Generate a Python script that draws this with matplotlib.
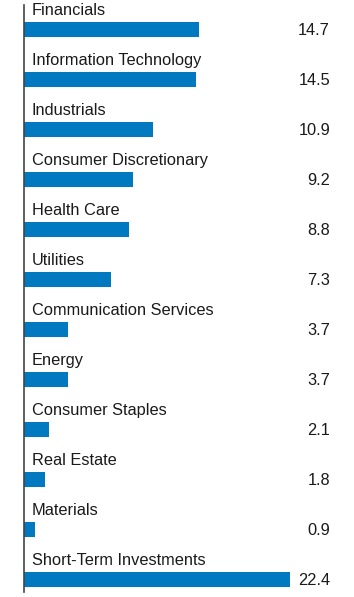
import matplotlib
matplotlib.use('Agg')
import matplotlib.pyplot as plt
from matplotlib import rcParams
import matplotlib.transforms as mtransforms

rcParams['font.family'] = ['Liberation Sans', 'DejaVu Sans']

sectors = ['Financials', 'Information Technology', 'Industrials',
           'Consumer Discretionary', 'Health Care', 'Utilities',
           'Communication Services', 'Energy', 'Consumer Staples',
           'Real Estate', 'Materials', 'Short-Term Investments']
weights = [14.7, 14.5, 10.9, 9.2, 8.8, 7.3, 3.7, 3.7, 2.1, 1.8, 0.9, 22.4]

bar_color = '#0079C1'

fig = plt.figure(figsize=(3.54, 5.97), dpi=100)
# axes: left spine at x=24px, spans y 5..592 px
ax = fig.add_axes([24/354, 5/597, 1 - 24/354, 587/597])

pos = list(range(len(sectors)))
ax.barh(pos, weights, height=0.29, color=bar_color, align='center')

ax.set_xlim(0, 330/11.875)
ax.set_ylim(11.25, -0.49)

trans = mtransforms.blended_transform_factory(ax.transAxes, ax.transData)
x_val = (330 - 24) / 330
for i, (name, w) in enumerate(zip(sectors, weights)):
    ax.text(0.65, i - 0.29, name, fontsize=11.8, color='#1a1a1a',
            ha='left', va='baseline')
    ax.text(x_val, i + 0.11, "{:.1f}".format(w), fontsize=11.8, color='#1a1a1a',
            ha='right', va='baseline', transform=trans)

for s in ['top', 'right', 'bottom']:
    ax.spines[s].set_visible(False)
ax.spines['left'].set_color('#444444')
ax.spines['left'].set_linewidth(1.2)
ax.set_xticks([])
ax.set_yticks([])

plt.savefig('out.png', dpi=100)
plt.close('all')
